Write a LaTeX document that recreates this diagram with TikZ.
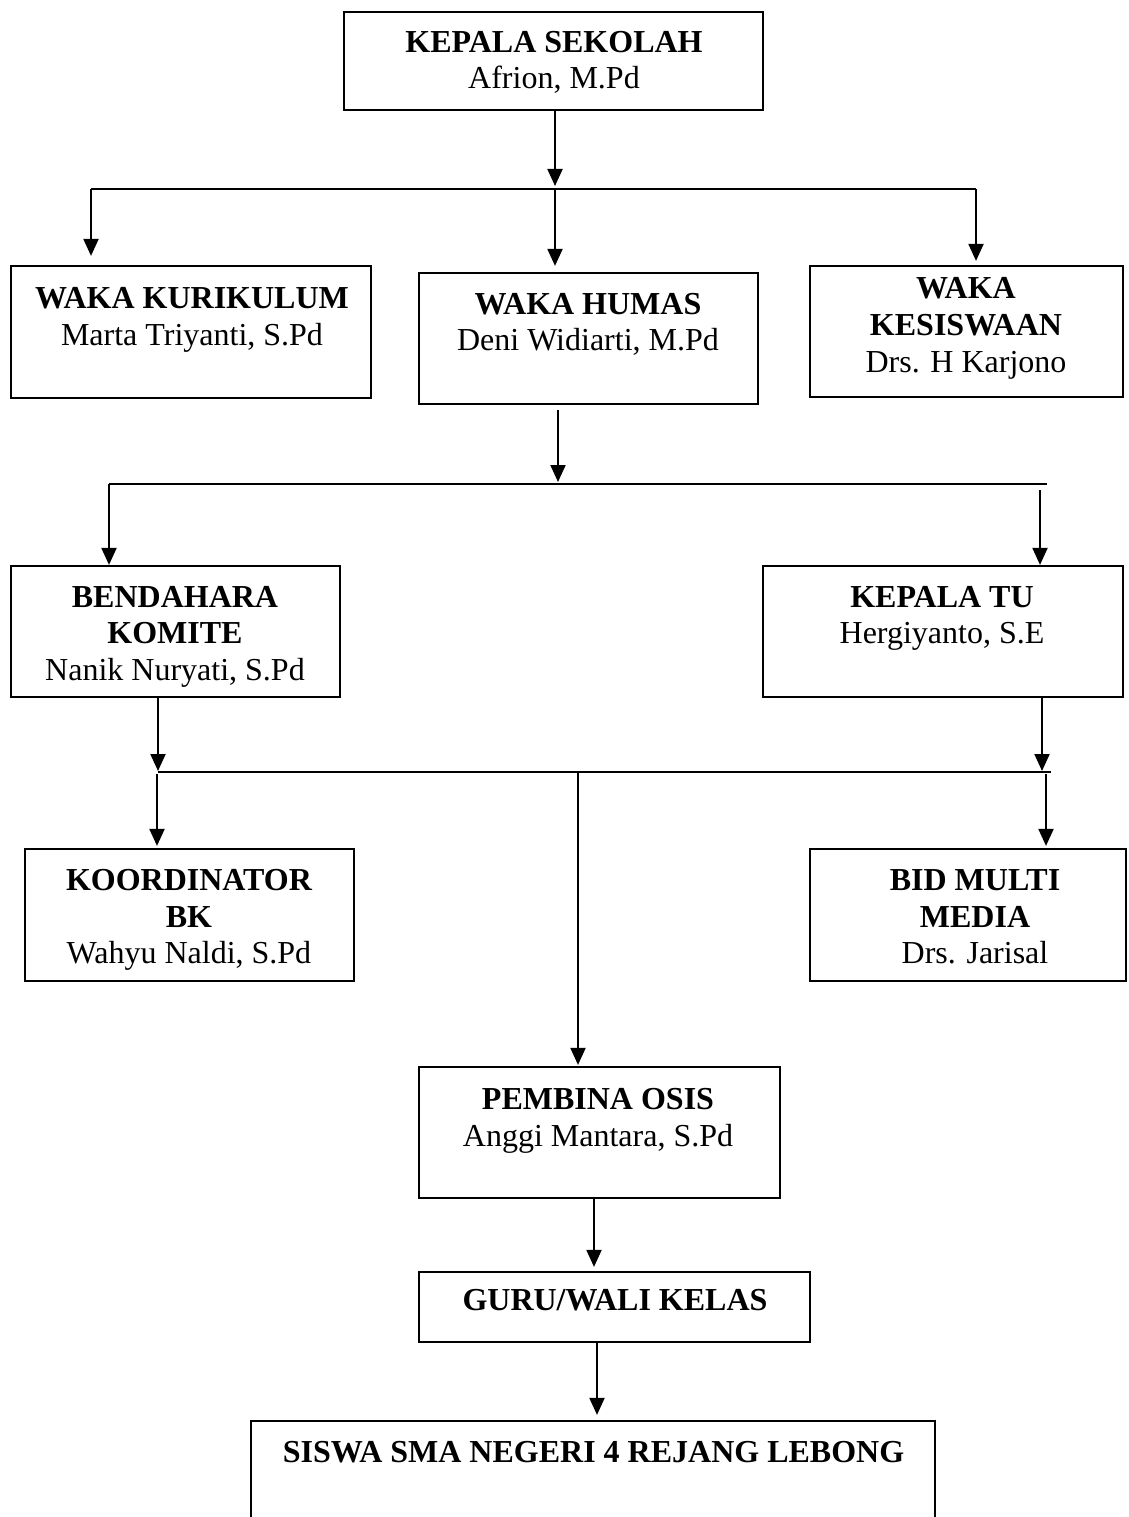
\documentclass[tikz,border=0pt]{standalone}
\usepackage{fontspec}
\setmainfont{Liberation Serif}
\usetikzlibrary{arrows.meta}
\begin{document}
\begin{tikzpicture}[x=1pt,y=-1pt,
  box/.style={draw,line width=2.2pt,inner sep=0pt},
  bt/.style={anchor=base,inner sep=0pt,font=\fontsize{32}{36}\selectfont\bfseries},
  nt/.style={anchor=base,inner sep=0pt,font=\fontsize{32}{36}\selectfont},
  conn/.style={line width=2pt,-{Triangle[length=17pt,width=15pt]}},
  hl/.style={line width=2pt}]
\useasboundingbox (0,0) rectangle (1128,1517);
\clip (0,0) rectangle (1128,1517);
\fill[white] (0,0) rectangle (1128,1517);

% boxes
\node[box,minimum width=419pt,minimum height=98pt] (ks) at (553.5,61) {};
\node[box,minimum width=360pt,minimum height=132pt] (wk) at (191,332) {};
\node[box,minimum width=339pt,minimum height=131pt] (wh) at (588.5,338.5) {};
\node[box,minimum width=313pt,minimum height=131pt] (wks) at (966.5,331.5) {};
\node[box,minimum width=329pt,minimum height=131pt] (bk) at (175.5,631.5) {};
\node[box,minimum width=360pt,minimum height=131pt] (tu) at (943,631.5) {};
\node[box,minimum width=329pt,minimum height=132pt] (kbk) at (189.5,915) {};
\node[box,minimum width=316pt,minimum height=132pt] (bmm) at (968,915) {};
\node[box,minimum width=361pt,minimum height=131pt] (po) at (599.5,1132.5) {};
\node[box,minimum width=391pt,minimum height=70pt] (guru) at (614.5,1307) {};
\node[box,minimum width=684pt,minimum height=130pt] (siswa) at (593,1486) {};

% texts
\node[bt] (ks1) at (554,53) {KEPALA SEKOLAH};
\node[nt] (ks2) at (554,89) {Afrion, M.Pd};
\node[bt] (wk1) at (192,308) {WAKA KURIKULUM};
\node[nt] (wk2) at (192,345) {Marta Triyanti, S.Pd};
\node[bt] (wh1) at (588,314) {WAKA HUMAS};
\node[nt] (wh2) at (588,350) {Deni Widiarti, M.Pd};
\node[bt] (wks1) at (966,298) {WAKA};
\node[bt] (wks2) at (966,335) {KESISWAAN};
\node[nt] (wks3) at (966,372) {Drs. H Karjono};
\node[bt] (bk1) at (175,607) {BENDAHARA};
\node[bt] (bk2) at (175,643) {KOMITE};
\node[nt] (bk3) at (175,680) {Nanik Nuryati, S.Pd};
\node[bt] (tu1) at (942,607) {KEPALA TU};
\node[nt] (tu2) at (942,643) {Hergiyanto, S.E};
\node[bt] (kbk1) at (189,890) {KOORDINATOR};
\node[bt] (kbk2) at (189,927) {BK};
\node[nt] (kbk3) at (189,963) {Wahyu Naldi, S.Pd};
\node[bt] (bmm1) at (975,890) {BID MULTI};
\node[bt] (bmm2) at (975,927) {MEDIA};
\node[nt] (bmm3) at (975,963) {Drs. Jarisal};
\node[bt] (po1) at (598,1109) {PEMBINA OSIS};
\node[nt] (po2) at (598,1146) {Anggi Mantara, S.Pd};
\node[bt] (guru1) at (615,1310) {GURU/WALI KELAS};
\node[bt] (siswa1) at (593.5,1462) {SISWA SMA NEGERI 4 REJANG LEBONG};

% junction coordinates
\coordinate (h1l) at (91,189);
\coordinate (h1m) at (555,189);
\coordinate (h1r) at (976,189);
\coordinate (h2l) at (109,484);
\coordinate (h2m) at (558,484);
\coordinate (h2r) at (1047,484);
\coordinate (h2s) at (1040,490);
\coordinate (h3l) at (158,772);
\coordinate (h3m) at (578,772);
\coordinate (h3r) at (1051,772);
\coordinate (h3a) at (1042,772);
\coordinate (h3b) at (1046,774);
\coordinate (h3c) at (157,774);

% horizontal lines
\draw[hl] (h1l) -- (h1r);
\draw[hl] (h2l) -- (h2r);
\draw[hl] (h3l) -- (h3r);

% connectors
\draw[conn,shorten >=3pt] (ks.south -| h1m) -- (h1m);
\draw[conn,shorten >=9pt] (h1l) -- (h1l |- wk.north);
\draw[conn,shorten >=6pt] (h1m) -- (h1m |- wh.north);
\draw[conn,shorten >=4pt] (h1r) -- (h1r |- wks.north);
\draw[conn,shorten >=2pt] ([yshift=-5pt]wh.south -| h2m) -- (h2m);
\draw[conn] (h2l) -- (h2l |- bk.north);
\draw[conn] (h2s) -- (h2s |- tu.north);
\draw[conn,shorten >=1pt] (bk.south -| h3l) -- (h3l);
\draw[conn,shorten >=1pt] (tu.south -| h3a) -- (h3a);
\draw[conn,shorten >=2pt] (h3c) -- (h3c |- kbk.north);
\draw[conn,shorten >=2pt] (h3b) -- (h3b |- bmm.north);
\draw[conn,shorten >=1pt] (h3m) -- (h3m |- po.north);
\draw[conn,shorten >=4pt] (po.south -| 594,0) -- (594,0 |- guru.north);
\draw[conn,shorten >=5pt] (guru.south -| 597,0) -- (597,0 |- siswa.north);
\end{tikzpicture}
\end{document}
